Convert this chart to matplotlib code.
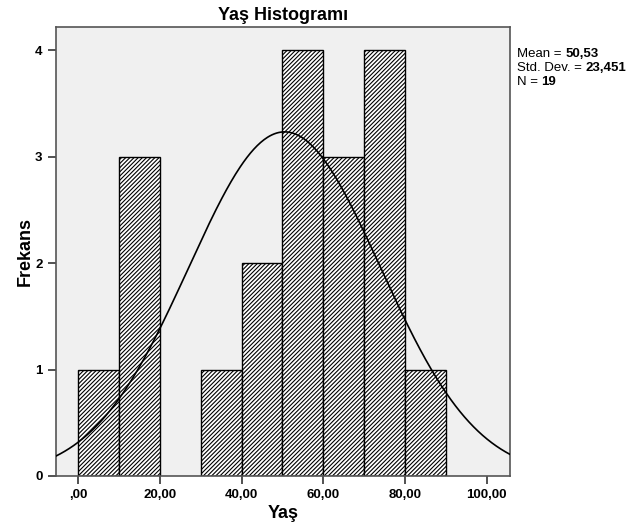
import numpy as np
import matplotlib
matplotlib.use("Agg")
import matplotlib.pyplot as plt
from matplotlib.offsetbox import TextArea, HPacker, VPacker, AnchoredOffsetbox

plt.rcParams['font.family'] = ['Liberation Sans', 'DejaVu Sans']
plt.rcParams['hatch.linewidth'] = 0.8

bin_edges = [0, 10, 20, 30, 40, 50, 60, 70, 80, 90]
counts = [1, 3, 0, 1, 2, 4, 3, 4, 1]
mean_val = 50.53
std_val = 23.451
n_val = 19
xticks = [0, 20, 40, 60, 80, 100]
xtick_labels = [",00", "20,00", "40,00", "60,00", "80,00", "100,00"]
yticks = [0, 1, 2, 3, 4]

fig = plt.figure(figsize=(6.41, 5.26), dpi=100)
ax = fig.add_axes([55.7/641, 1-476/526, (510-55.7)/641, (476-26.7)/526])
ax.set_facecolor('#f0f0f0')

lefts = np.array(bin_edges[:-1])
widths = np.diff(bin_edges)
for l, w, c in zip(lefts, widths, counts):
    if c > 0:
        ax.bar(l, c, width=w, align='edge', facecolor='white', edgecolor='black',
               hatch='////////', linewidth=1.0, zorder=2)

xlim = (-5.5, 105.7)
xs = np.linspace(xlim[0], xlim[1], 400)
binw = 10
ys = n_val * binw / (std_val * np.sqrt(2*np.pi)) * np.exp(-0.5*((xs-mean_val)/std_val)**2)
ax.plot(xs, ys, color='black', linewidth=1.2, zorder=3)

ax.set_xlim(*xlim)
ax.set_ylim(0, 4.22)
ax.set_xticks(xticks)
ax.set_xticklabels(xtick_labels)
ax.set_yticks(yticks)
ax.tick_params(direction='out', length=6, width=1.2, labelsize=9.5, color='#333333')
ax.tick_params(axis='x', pad=3)
for lab in ax.get_xticklabels() + ax.get_yticklabels():
    lab.set_fontweight('bold')
for s in ax.spines.values():
    s.set_color('#555555')
    s.set_linewidth(1.2)

ax.set_title("Yaş Histogramı", fontsize=13, fontweight='bold', pad=5)
ax.set_xlabel("Yaş", fontsize=13, fontweight='bold', labelpad=3)
ax.set_ylabel("Frekans", fontsize=13, fontweight='bold', labelpad=1)

def line(a, b):
    return HPacker(children=[TextArea(a, textprops=dict(fontsize=9.5)),
                             TextArea(b, textprops=dict(fontsize=9.5, fontweight='bold'))],
                   pad=0, sep=0, align='baseline')
box = VPacker(children=[line("Mean = ", f"{mean_val:.2f}".replace('.', ',')),
                        line("Std. Dev. = ", f"{std_val:.3f}".replace('.', ',')),
                        line("N = ", str(n_val))], pad=0, sep=1.5, align='left')
anch = AnchoredOffsetbox(loc='upper left', child=box, pad=0, frameon=False,
                         bbox_to_anchor=(517/641, 1-48/526), bbox_transform=fig.transFigure,
                         borderpad=0)
fig.add_artist(anch)

fig.savefig("out.png", dpi=100)
